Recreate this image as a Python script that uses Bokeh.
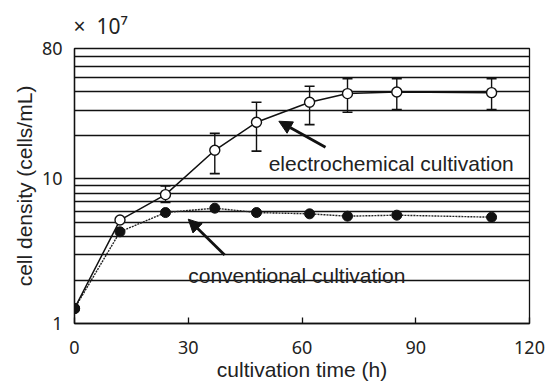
from bokeh.plotting import figure
from bokeh.models import Range1d, FixedTicker, PrintfTickFormatter, Arrow, NormalHead, Label, ColumnDataSource, Title
from bokeh.embed import file_html
from bokeh.resources import INLINE

# ---- data ----
time_h = [0, 12, 24, 37, 48, 62, 72, 85, 110]
electrochemical = [1.27, 5.2, 7.8, 15.8, 24.7, 34.0, 39.0, 40.0, 39.6]
conventional = [1.27, 4.31, 5.86, 6.28, 5.86, 5.74, 5.53, 5.62, 5.44]

err_time = [24, 37, 48, 62, 72, 85, 110]
err_upper = [8.95, 20.7, 34.0, 43.8, 49.5, 49.5, 49.5]
err_lower = [6.87, 10.9, 15.6, 23.8, 29.0, 30.2, 30.2]

x_ticks = [0, 30, 60, 90, 120]
y_ticks = [1, 10, 80]
y_grid = [1, 2, 3, 4, 5, 6, 7, 8, 9, 10, 20, 30, 40, 50, 60, 70, 80]
unit_note = "×\u00a0\u00a010⁷"

# annotation anchors (data coordinates)
arrow_electro = dict(x_start=66.2, y_start=16.6, x_end=53.9, y_end=25.1)
arrow_conv = dict(x_start=39.6, y_start=2.98, x_end=30.0, y_end=5.27)
label_electro = dict(x=51.2, y=12.7, text="electrochemical cultivation")
label_conv = dict(x=30.0, y=2.14, text="conventional cultivation")

title = Title(text=unit_note, text_font="Noto Sans", text_font_size="21px",
              text_font_style="normal", text_color="#222222",
              align="left", offset=-1, standoff=18)

p = figure(width=547, height=384, y_axis_type="log",
           x_range=Range1d(0, 120), y_range=Range1d(1, 80),
           output_backend="svg", toolbar_location=None,
           title=title,
           min_border_left=74, min_border_right=18,
           min_border_top=47, min_border_bottom=61)

p.background_fill_color = "white"
p.border_fill_color = "white"
p.outline_line_color = "#111111"
p.outline_line_width = 1.3

p.xgrid.visible = False
p.ygrid.ticker = FixedTicker(ticks=y_grid)
p.ygrid.grid_line_color = "#111111"
p.ygrid.grid_line_width = 1.3

p.xaxis.ticker = FixedTicker(ticks=x_ticks)
p.yaxis.ticker = FixedTicker(ticks=y_ticks)
p.yaxis.formatter = PrintfTickFormatter(format="%d")

for ax in (p.xaxis, p.yaxis):
    ax.axis_line_color = "#111111"
    ax.axis_line_width = 1.3
    ax.minor_tick_line_color = None
    ax.major_label_text_font = "Noto Sans"
    ax.major_label_text_font_size = "18px"
    ax.major_label_text_color = "#222222"
    ax.axis_label_text_font = "Liberation Sans"
    ax.axis_label_text_font_size = "21px"
    ax.axis_label_text_font_style = "normal"
    ax.axis_label_text_color = "#222222"

p.xaxis.major_tick_in = 6
p.xaxis.major_tick_out = 0
p.xaxis.major_tick_line_color = "#111111"
p.xaxis.major_tick_line_width = 1.3
p.xaxis.major_label_standoff = 17
p.xaxis.axis_label = "cultivation time (h)"
p.xaxis.axis_label_standoff = 1

p.yaxis.major_tick_in = 0
p.yaxis.major_tick_out = 0
p.yaxis.major_label_standoff = 12
p.yaxis.axis_label = "cell density (cells/mL)"
p.yaxis.axis_label_standoff = 3

src = ColumnDataSource(dict(t=time_h, e=electrochemical, c=conventional))
err = ColumnDataSource(dict(t=err_time, up=err_upper, lo=err_lower))

p.line("t", "c", source=src, line_color="#222222", line_width=1.4, line_dash="2 1")
p.line("t", "e", source=src, line_color="#111111", line_width=1.5)

p.segment(x0="t", y0="lo", x1="t", y1="up", source=err, line_color="#111111", line_width=1.4)
p.scatter("t", "up", source=err, marker="dash", size=10, line_color="#111111", line_width=1.6)
p.scatter("t", "lo", source=err, marker="dash", size=10, line_color="#111111", line_width=1.6)

p.scatter("t", "e", source=src, marker="circle", size=10, fill_color="white",
          line_color="#111111", line_width=1.4)
p.scatter("t", "c", source=src, marker="circle", size=10, fill_color="#111111",
          line_color="#111111", line_width=1)

for a in (arrow_electro, arrow_conv):
    p.add_layout(Arrow(end=NormalHead(size=13, fill_color="#111111", line_color="#111111"),
                       line_color="#111111", line_width=2.8, **a))

for lab in (label_electro, label_conv):
    p.add_layout(Label(text_font="Liberation Sans", text_font_size="21px",
                       text_color="#222222", text_baseline="alphabetic", **lab))

open("out.html", "w").write(file_html(p, INLINE))
